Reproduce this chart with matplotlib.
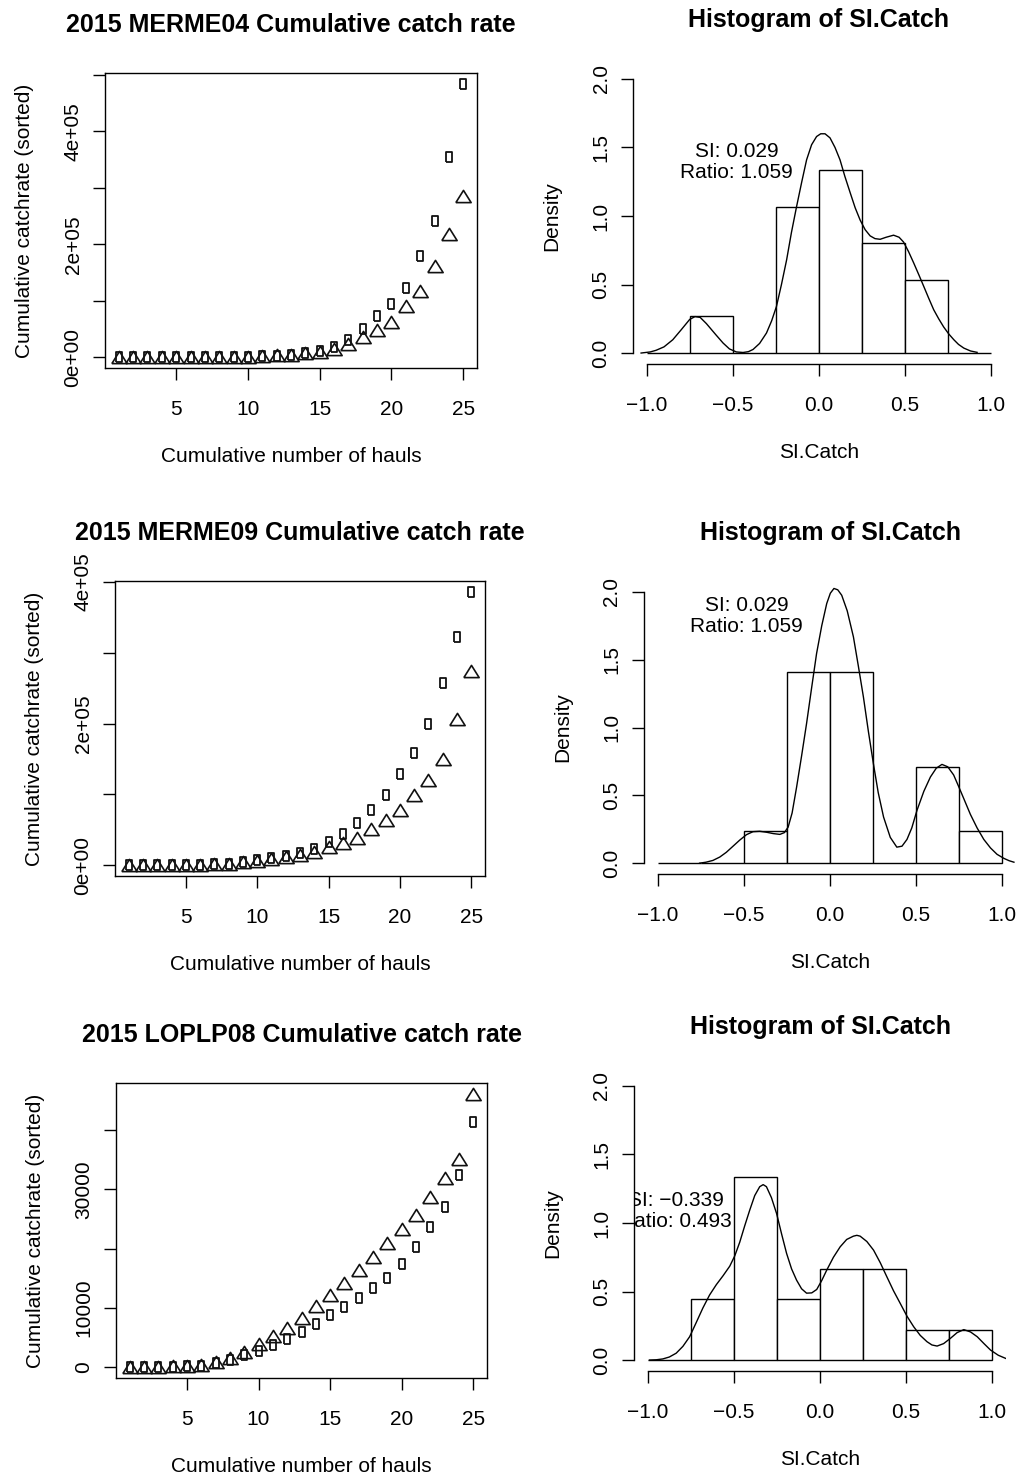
import matplotlib
matplotlib.use("Agg")
import matplotlib.pyplot as plt
from matplotlib.path import Path

plt.rcParams["font.family"] = ["Liberation Sans", "DejaVu Sans"]
plt.rcParams["font.size"] = 15

# ---- data ----
hauls = list(range(1, 26))

merme04_sq = [100, 200, 300, 400, 500, 600, 700, 800, 900, 1100, 1500, 2400, 4000,
              6500, 10600, 18000, 31000, 50000, 73000, 95000, 123000, 180000,
              241000, 354000, 484000]
merme04_tri = [100, 150, 200, 300, 400, 500, 600, 700, 800, 1000, 1400, 3000, 4000,
               6500, 9000, 14700, 23600, 35400, 48000, 62500, 90000, 118000,
               162000, 219000, 285000]

merme09_sq = [100, 200, 300, 400, 500, 700, 1400, 2300, 4200, 7000, 9900, 13600,
              17400, 23000, 32400, 44600, 60000, 78000, 99500, 129000, 158000,
              200000, 257000, 322000, 386000]
merme09_tri = [100, 200, 300, 400, 500, 700, 1200, 2300, 4000, 6000, 9000, 11700,
               15000, 19000, 25000, 31000, 39000, 51000, 64000, 78000, 98600,
               120000, 150000, 207000, 274000]

loplp08_sq = [50, 60, 80, 100, 150, 220, 680, 1240, 2090, 2770, 3790, 4750, 6045,
              7345, 8760, 10220, 11730, 13300, 15140, 17370, 20280, 23630, 26980,
              32460, 41340]
loplp08_tri = [80, 100, 120, 150, 200, 400, 960, 1525, 2510, 3900, 5310, 6610, 8300,
               10280, 12260, 14300, 16480, 18600, 20950, 23350, 25700, 28660, 31900,
               35080, 46090]

bin_edges = [-1.0, -0.75, -0.5, -0.25, 0.0, 0.25, 0.5, 0.75, 1.0]
counts_1 = [0, 1, 0, 4, 5, 3, 2, 0]
counts_2 = [0, 0, 1, 6, 6, 0, 3, 1]
counts_3 = [0, 2, 6, 2, 3, 3, 1, 1]

# density curves
dens1_x = [-1.033, -0.98, -0.946, -0.90, -0.849, -0.80, -0.751, -0.72, -0.69, -0.654,
           -0.60, -0.557, -0.52, -0.48, -0.441, -0.41, -0.383, -0.345, -0.305, -0.275,
           -0.247, -0.218, -0.188, -0.16, -0.130, -0.10, -0.072, -0.043, -0.014, 0.01,
           0.035, 0.064, 0.093, 0.122, 0.15, 0.181, 0.21, 0.239, 0.268, 0.297, 0.325,
           0.355, 0.39, 0.433, 0.465, 0.491, 0.52, 0.550, 0.58, 0.608, 0.637, 0.666,
           0.695, 0.724, 0.753, 0.783, 0.81, 0.841, 0.88, 0.918]
dens1_y = [0.0, 0.008, 0.02, 0.045, 0.097, 0.17, 0.245, 0.266, 0.26, 0.215,
           0.135, 0.073, 0.03, 0.008, 0.004, 0.01, 0.026, 0.07, 0.146, 0.235,
           0.34, 0.5, 0.68, 0.88, 1.07, 1.25, 1.41, 1.52, 1.58, 1.60,
           1.60, 1.57, 1.50, 1.41, 1.29, 1.17, 1.06, 0.97, 0.90, 0.855, 0.835,
           0.83, 0.845, 0.86, 0.845, 0.81, 0.74, 0.657, 0.57, 0.487, 0.40, 0.316,
           0.25, 0.19, 0.14, 0.097, 0.063, 0.036, 0.015, 0.005]

dens2_x = [-0.757, -0.72, -0.680, -0.64, -0.602, -0.563, -0.524, -0.485, -0.447,
           -0.408, -0.369, -0.33, -0.291, -0.265, -0.243, -0.22, -0.194, -0.165,
           -0.136, -0.107, -0.078, -0.048, -0.019, 0.002, 0.023, 0.045, 0.068, 0.10,
           0.136, 0.165, 0.194, 0.223, 0.252, 0.28, 0.311, 0.35, 0.388, 0.418, 0.447,
           0.475, 0.505, 0.545, 0.583, 0.617, 0.650, 0.684, 0.718, 0.747, 0.777,
           0.815, 0.854, 0.893, 0.932, 0.97, 1.010, 1.04, 1.068]
dens2_y = [0.0, 0.007, 0.02, 0.045, 0.08, 0.125, 0.17, 0.21, 0.232,
           0.235, 0.228, 0.218, 0.212, 0.225, 0.266, 0.37, 0.56, 0.79,
           1.03, 1.29, 1.545, 1.75, 1.914, 1.99, 2.025, 2.015, 1.975, 1.86,
           1.668, 1.45, 1.225, 0.97, 0.733, 0.52, 0.34, 0.19, 0.118, 0.125, 0.175,
           0.26, 0.389, 0.53, 0.635, 0.70, 0.728, 0.71, 0.65, 0.565, 0.475,
           0.36, 0.26, 0.175, 0.112, 0.065, 0.035, 0.018, 0.007]

dens3_x = [-0.990, -0.95, -0.913, -0.875, -0.835, -0.796, -0.757, -0.72, -0.680,
           -0.641, -0.602, -0.563, -0.524, -0.495, -0.466, -0.437, -0.408, -0.379,
           -0.350, -0.33, -0.311, -0.282, -0.252, -0.223, -0.194, -0.165, -0.136,
           -0.107, -0.078, -0.048, -0.019, 0.01, 0.039, 0.078, 0.117, 0.155, 0.194,
           0.214, 0.233, 0.272, 0.311, 0.35, 0.388, 0.427, 0.466, 0.505, 0.544,
           0.582, 0.621, 0.65, 0.680, 0.718, 0.757, 0.796, 0.835, 0.874, 0.913,
           0.952, 0.990, 1.035, 1.078]
dens3_y = [0.0, 0.002, 0.008, 0.022, 0.05, 0.1, 0.17, 0.27, 0.38,
           0.475, 0.55, 0.615, 0.685, 0.76, 0.86, 0.98, 1.094, 1.20,
           1.265, 1.28, 1.265, 1.185, 1.069, 0.92, 0.778, 0.665, 0.583,
           0.52, 0.488, 0.49, 0.515, 0.58, 0.656, 0.75, 0.826, 0.88, 0.904,
           0.91, 0.904, 0.865, 0.802, 0.71, 0.608, 0.505, 0.413, 0.32, 0.243,
           0.18, 0.134, 0.11, 0.102, 0.12, 0.158, 0.2, 0.222, 0.205, 0.17,
           0.12, 0.073, 0.035, 0.012]

hist_xticks = [-1.0, -0.5, 0.0, 0.5, 1.0]
hist_xlabels = ["\u22121.0", "\u22120.5", "0.0", "0.5", "1.0"]
hist_yticks = [0.0, 0.5, 1.0, 1.5, 2.0]
hist_ylabels = ["0.0", "0.5", "1.0", "1.5", "2.0"]

# ---- layout ----
W, H = 1017, 1479
fig = plt.figure(figsize=(W / 100, H / 100), dpi=100)


def px_axes(left, top, right, bottom):
    return fig.add_axes([left / W, 1 - bottom / H, (right - left) / W, (bottom - top) / H])


rect_marker = Path([(-0.3, -0.5), (0.3, -0.5), (0.3, 0.5), (-0.3, 0.5), (-0.3, -0.5)])
tri_marker = Path([(-0.5, -0.4), (0.5, -0.4), (0.0, 0.4), (-0.5, -0.4)])


def style_ticks(ax):
    ax.tick_params(axis="x", length=8.6, width=1.0, pad=14.4, labelsize=15)
    ax.tick_params(axis="y", length=8.6, width=1.0, pad=7.6, labelsize=15)


def cumulative_panel(box, title, squares, triangles, yticks, ylabels):
    ax = px_axes(*box)
    ax.plot(hauls, squares, linestyle="none", marker=rect_marker, ms=6.6,
            mfc="none", mec="#111111", mew=1.3)
    ax.plot(hauls, triangles, linestyle="none", marker=tri_marker, ms=11,
            mfc="none", mec="#111111", mew=1.2)
    ax.margins(0.04)
    ax.set_xticks([5, 10, 15, 20, 25])
    ax.set_yticks(yticks, ylabels, rotation=90, va="center")
    style_ticks(ax)
    for s in ax.spines.values():
        s.set_linewidth(1.0)
    ax.set_title(title, fontsize=18, fontweight="bold", pad=29.5)
    ax.set_xlabel("Cumulative number of hauls", labelpad=20)
    ax.set_ylabel("Cumulative catchrate (sorted)", labelpad=21)
    return ax


def histogram_panel(box, counts, cx, cy, note, note_x, note_y):
    ax = px_axes(*box)
    n = sum(counts)
    dens = [c / (n * 0.25) for c in counts]
    ax.bar(bin_edges[:-1], dens, width=0.25, align="edge", facecolor="white",
           edgecolor="black", linewidth=1.0)
    ax.plot(cx, cy, color="black", lw=1.0)
    ax.set_xlim(-1.08, 1.08)
    ax.set_ylim(-0.08, 2.08)
    ax.set_xticks(hist_xticks, hist_xlabels)
    ax.set_yticks(hist_yticks, hist_ylabels, rotation=90, va="center")
    style_ticks(ax)
    ax.spines["top"].set_visible(False)
    ax.spines["right"].set_visible(False)
    ax.spines["left"].set_bounds(0, 2)
    ax.spines["bottom"].set_bounds(-1, 1)
    ax.spines["left"].set_linewidth(1.0)
    ax.spines["bottom"].set_linewidth(1.0)
    ax.set_title("Histogram of SI.Catch", fontsize=18, fontweight="bold", pad=29.5)
    ax.set_xlabel("SI.Catch", labelpad=20)
    ax.set_ylabel("Density", labelpad=22)
    ax.text(note_x, note_y, note, ha="center", va="center", multialignment="center",
            fontsize=15, linespacing=1.15, clip_on=True)
    return ax


cumulative_panel((105, 73, 477, 368), "2015 MERME04 Cumulative catch rate",
                 merme04_sq, merme04_tri,
                 [0, 1e5, 2e5, 3e5, 4e5, 5e5], ["0e+00", "", "2e+05", "", "4e+05", ""])
histogram_panel((633, 68, 1005, 364), counts_1, dens1_x, dens1_y,
                "SI: 0.029\nRatio: 1.059", -0.477, 1.394)

cumulative_panel((115, 581, 485, 876), "2015 MERME09 Cumulative catch rate",
                 merme09_sq, merme09_tri,
                 [0, 1e5, 2e5, 3e5, 4e5], ["0e+00", "", "2e+05", "", "4e+05"])
histogram_panel((644, 581, 1016, 874), counts_2, dens2_x, dens2_y,
                "SI: 0.029\nRatio: 1.059", -0.483, 1.82)

cumulative_panel((116, 1083, 487, 1378), "2015 LOPLP08 Cumulative catch rate",
                 loplp08_sq, loplp08_tri,
                 [0, 10000, 20000, 30000, 40000], ["0", "10000", "", "30000", ""])
histogram_panel((634, 1075, 1006, 1371), counts_3, dens3_x, dens3_y,
                "SI: \u22120.339\nRatio: 0.493", -0.837, 1.09)

fig.savefig("out.png", dpi=100)
